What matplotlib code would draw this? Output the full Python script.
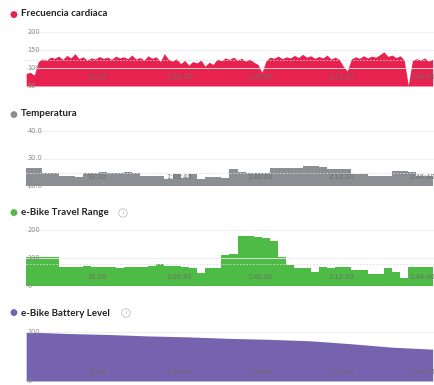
import numpy as np
import matplotlib
matplotlib.use("Agg")
import matplotlib.pyplot as plt

W, H = 434, 385

# ---------------- data ----------------
hr_start, hr_step = 250, 100
heart_rate = [85, 88, 80, 118, 125, 122, 130, 127, 133, 124,
              135, 128, 140, 126, 131, 122, 128, 125, 132, 127,
              130, 124, 133, 128, 131, 126, 136, 125, 129, 122,
              134, 127, 131, 118, 140, 124, 119, 126, 112, 121,
              108, 118, 114, 122, 105, 116, 110, 125, 120, 128,
              124, 130, 122, 127, 119, 125, 116, 110, 88, 120,
              130, 127, 133, 126, 131, 128, 135, 129, 138, 130,
              134, 127, 132, 128, 136, 125, 130, 124, 105, 92,
              125, 131, 127, 134, 128, 133, 130, 137, 145, 132,
              136, 129, 134, 122, 52, 120, 126, 122, 128, 119,
              124]

st_start, st_step = 250, 200
temperature = [26.7, 26.7, 24.8, 24.8, 23.7, 23.7, 23.3, 24.8, 24.8, 25.0,
               24.8, 24.8, 25.0, 24.8, 23.7, 23.7, 23.7, 22.6, 24.4, 23.0,
               24.4, 22.6, 23.3, 23.3, 23.0, 26.0, 25.0, 24.8, 24.8, 24.8,
               26.5, 26.7, 26.7, 26.7, 27.4, 27.4, 27.0, 26.3, 26.3, 26.3,
               24.4, 24.4, 23.7, 23.7, 23.7, 25.5, 25.5, 25.0, 23.7, 23.7,
               24.0]

travel_range = [104, 104, 104, 104, 69, 69, 68, 70, 69, 68,
                69, 66, 68, 69, 69, 70, 80, 72, 70, 68,
                66, 47, 65, 65, 110, 113, 178, 178, 176, 171,
                160, 102, 76, 65, 65, 51, 69, 66, 69, 67,
                58, 58, 44, 44, 65, 51, 29, 69, 69, 69,
                51]

battery_t = [250, 1250, 2250, 3250, 4250, 5250, 6250, 7250, 8250, 9250, 10250]
battery = [100, 97, 95, 92, 90, 87, 85, 82, 76, 69, 65]

x_ticks = [2000, 4000, 6000, 8000, 10000]
x_tick_labels = ["33:20", "1:06:40", "1:40:00", "2:13:20", "2:46:40"]

panels = [
    dict(title="Frecuencia cardiaca", color="#e8224e", ylim=(50, 200),
         yticks=[50, 100, 150, 200], ylabels=["50", "100", "150", "200"],
         top=32, bottom=86, info=False),
    dict(title="Temperatura", color="#8b8f93", ylim=(20, 40),
         yticks=[20, 30, 40], ylabels=["20.0", "30.0", "40.0"],
         top=131, bottom=186, info=False),
    dict(title="e-Bike Travel Range", color="#4dbb45", ylim=(0, 200),
         yticks=[0, 100, 200], ylabels=["0", "100", "200"],
         top=230, bottom=286, info=True),
    dict(title="e-Bike Battery Level", color="#7563b0", ylim=(0, 100),
         yticks=[0, 100], ylabels=["0", "100"],
         top=332, bottom=381, info=True),
]
title_y = [14, 114, 213, 313]

# ---------------- figure ----------------
fig = plt.figure(figsize=(W / 100, H / 100), dpi=100)
fig.patch.set_facecolor("white")

x_left_px, x_right_px = 26, 442
t_left = 246
sec_per_px = 24.6
xlim = (t_left, t_left + (x_right_px - x_left_px) * sec_per_px)

hr_t = hr_start + hr_step * np.arange(len(heart_rate))
st_t = st_start + st_step * np.arange(len(temperature))
series = [
    (hr_t, np.array(heart_rate), None),
    (st_t, np.array(temperature), "post"),
    (st_t, np.array(travel_range), "post"),
    (np.array(battery_t), np.array(battery), None),
]

for i, (p, (tt, vv, step)) in enumerate(zip(panels, series)):
    ax = fig.add_axes([x_left_px / W, 1 - p["bottom"] / H,
                       (x_right_px - x_left_px) / W, (p["bottom"] - p["top"]) / H])
    ax.set_xlim(*xlim)
    ax.set_ylim(*p["ylim"])
    for s in ax.spines.values():
        s.set_visible(False)
    ax.set_yticks(p["yticks"])
    ax.set_yticklabels(p["ylabels"])
    ax.grid(axis="y", color="#ececec", lw=0.6, zorder=0)
    if step:
        ax.fill_between(tt, p["ylim"][0], vv, step=step, color=p["color"], lw=0, zorder=1)
    else:
        ax.fill_between(tt, p["ylim"][0], vv, color=p["color"], lw=0, zorder=1)
    mean = np.nanmean(vv)
    if i < 3:
        ax.axhline(mean, color="#dcdcdc", lw=0.6, ls=(0, (2, 2)), zorder=2)
    ax.set_xticks(x_ticks)
    ax.set_xticklabels(x_tick_labels)
    ax.tick_params(axis="x", length=0, pad=-8.5, labelsize=4.8, labelcolor="#6d6d6d")
    ax.tick_params(axis="y", length=0, pad=-1, labelsize=4.8, labelcolor="#8a8a8a")
    for lab in ax.get_yticklabels():
        lab.set_horizontalalignment("left")
        lab.set_verticalalignment("center")
    for lab in ax.get_xticklabels():
        lab.set_zorder(5)

    ty = 1 - title_y[i] / H
    fig.text(10 / W, ty, "●", color=p["color"], fontsize=6.5, va="center", ha="left")
    fig.text(21 / W, ty, p["title"], color="#222222", fontsize=7,
             fontfamily="Lato", fontweight="bold", va="center", ha="left")
    if p["info"]:
        fig.text(123 / W if i == 2 else 126 / W, ty, "i", color="#9a9a9a", fontsize=3.6,
                 va="center", ha="center",
                 bbox=dict(boxstyle="circle,pad=0.35", fc="white", ec="#b5b5b5", lw=0.5))

fig.savefig("out.png", dpi=100, facecolor="white")
